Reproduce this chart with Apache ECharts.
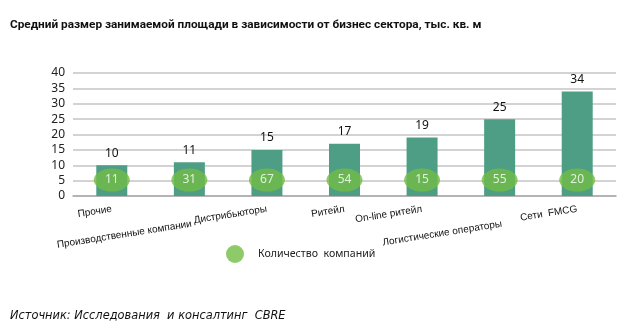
<!DOCTYPE html>
<html><head><meta charset="utf-8">
<script src="https://cdn.jsdelivr.net/npm/echarts@6/dist/echarts.min.js"></script>
<style>html,body{margin:0;padding:0;background:#fff}#c{width:641px;height:329px}</style>
</head><body><div id="c"></div>
<script>
const categories = ['Прочие','Производственные компании','Дистрибьюторы','Ритейл','On-line ритейл','Логистические операторы','Сети  FMCG'];
const areaValues = [10, 11, 15, 17, 19, 25, 34];
const companyCounts = [11, 31, 67, 54, 15, 55, 20];
const yTicks = [0, 5, 10, 15, 20, 25, 30, 35, 40];
const lowLabels = ['Производственные компании','Логистические операторы'];
const seriesNames = ['Средний размер', 'Количество  компаний'];

const BADGE_LEVEL = 5.2;
const chart = echarts.init(document.getElementById('c'), null, {renderer:'canvas'});
chart.setOption({
  animation: false,
  backgroundColor: '#fff',
  title: [{
    text: 'Средний размер занимаемой площади в зависимости от бизнес сектора, тыс. кв. м',
    left: 5, top: 14,
    textStyle: {fontFamily: 'Roboto', fontWeight: 'bold', fontSize: 11.8, color: '#111'}
  },{
    text: 'Источник: Исследования  и консалтинг  CBRE',
    left: 5, top: 306,
    textStyle: {fontFamily: 'DejaVu Sans', fontStyle: 'italic', fontWeight: 'normal', fontSize: 11.4, color: '#111'}
  }],
  legend: {
    data: [seriesNames[1]],
    left: 221, top: 240,
    icon: 'circle', itemWidth: 22, itemHeight: 18, itemGap: 10,
    textStyle: {fontFamily: 'Noto Sans', fontSize: 10.6, color: '#222', padding: [0,0,0,7]}
  },
  grid: {left: 73, right: 25, top: 73, bottom: 133, containLabel: false},
  xAxis: {
    type: 'category', data: categories,
    axisLine: {lineStyle: {color: '#aaa', width: 1.5}},
    axisTick: {show: false},
    axisLabel: {
      interval: 0, rotate: 9, margin: 13,
      fontFamily: 'Liberation Sans', fontSize: 10, color: '#111',
      formatter: v => lowLabels.includes(v) ? '\n\n' + v : v,
      lineHeight: 15
    }
  },
  yAxis: {
    type: 'value', min: yTicks[0], max: yTicks[yTicks.length-1], interval: 5,
    axisLine: {show: false}, axisTick: {show: false},
    axisLabel: {fontFamily: 'Noto Sans', fontSize: 12, color: '#222', margin: 8},
    splitLine: {lineStyle: {color: '#c4c4c4', width: 1.5}}
  },
  series: [{
    name: seriesNames[0], type: 'bar', data: areaValues, barWidth: 31,
    itemStyle: {color: '#4e9e86'},
    label: {show: true, position: 'top', distance: 6, fontFamily: 'Noto Sans', fontSize: 12, color: '#111'},
    z: 2
  },{
    name: seriesNames[1], type: 'scatter',
    data: companyCounts.map((c, i) => [i, BADGE_LEVEL]),
    symbol: 'circle', symbolSize: [36, 23],
    itemStyle: {color: '#72bb45'},
    label: {show: true, position: 'inside', formatter: p => companyCounts[p.dataIndex],
      fontFamily: 'Noto Sans', fontSize: 12, color: '#fff'},
    z: 3
  }]
});
</script></body></html>
